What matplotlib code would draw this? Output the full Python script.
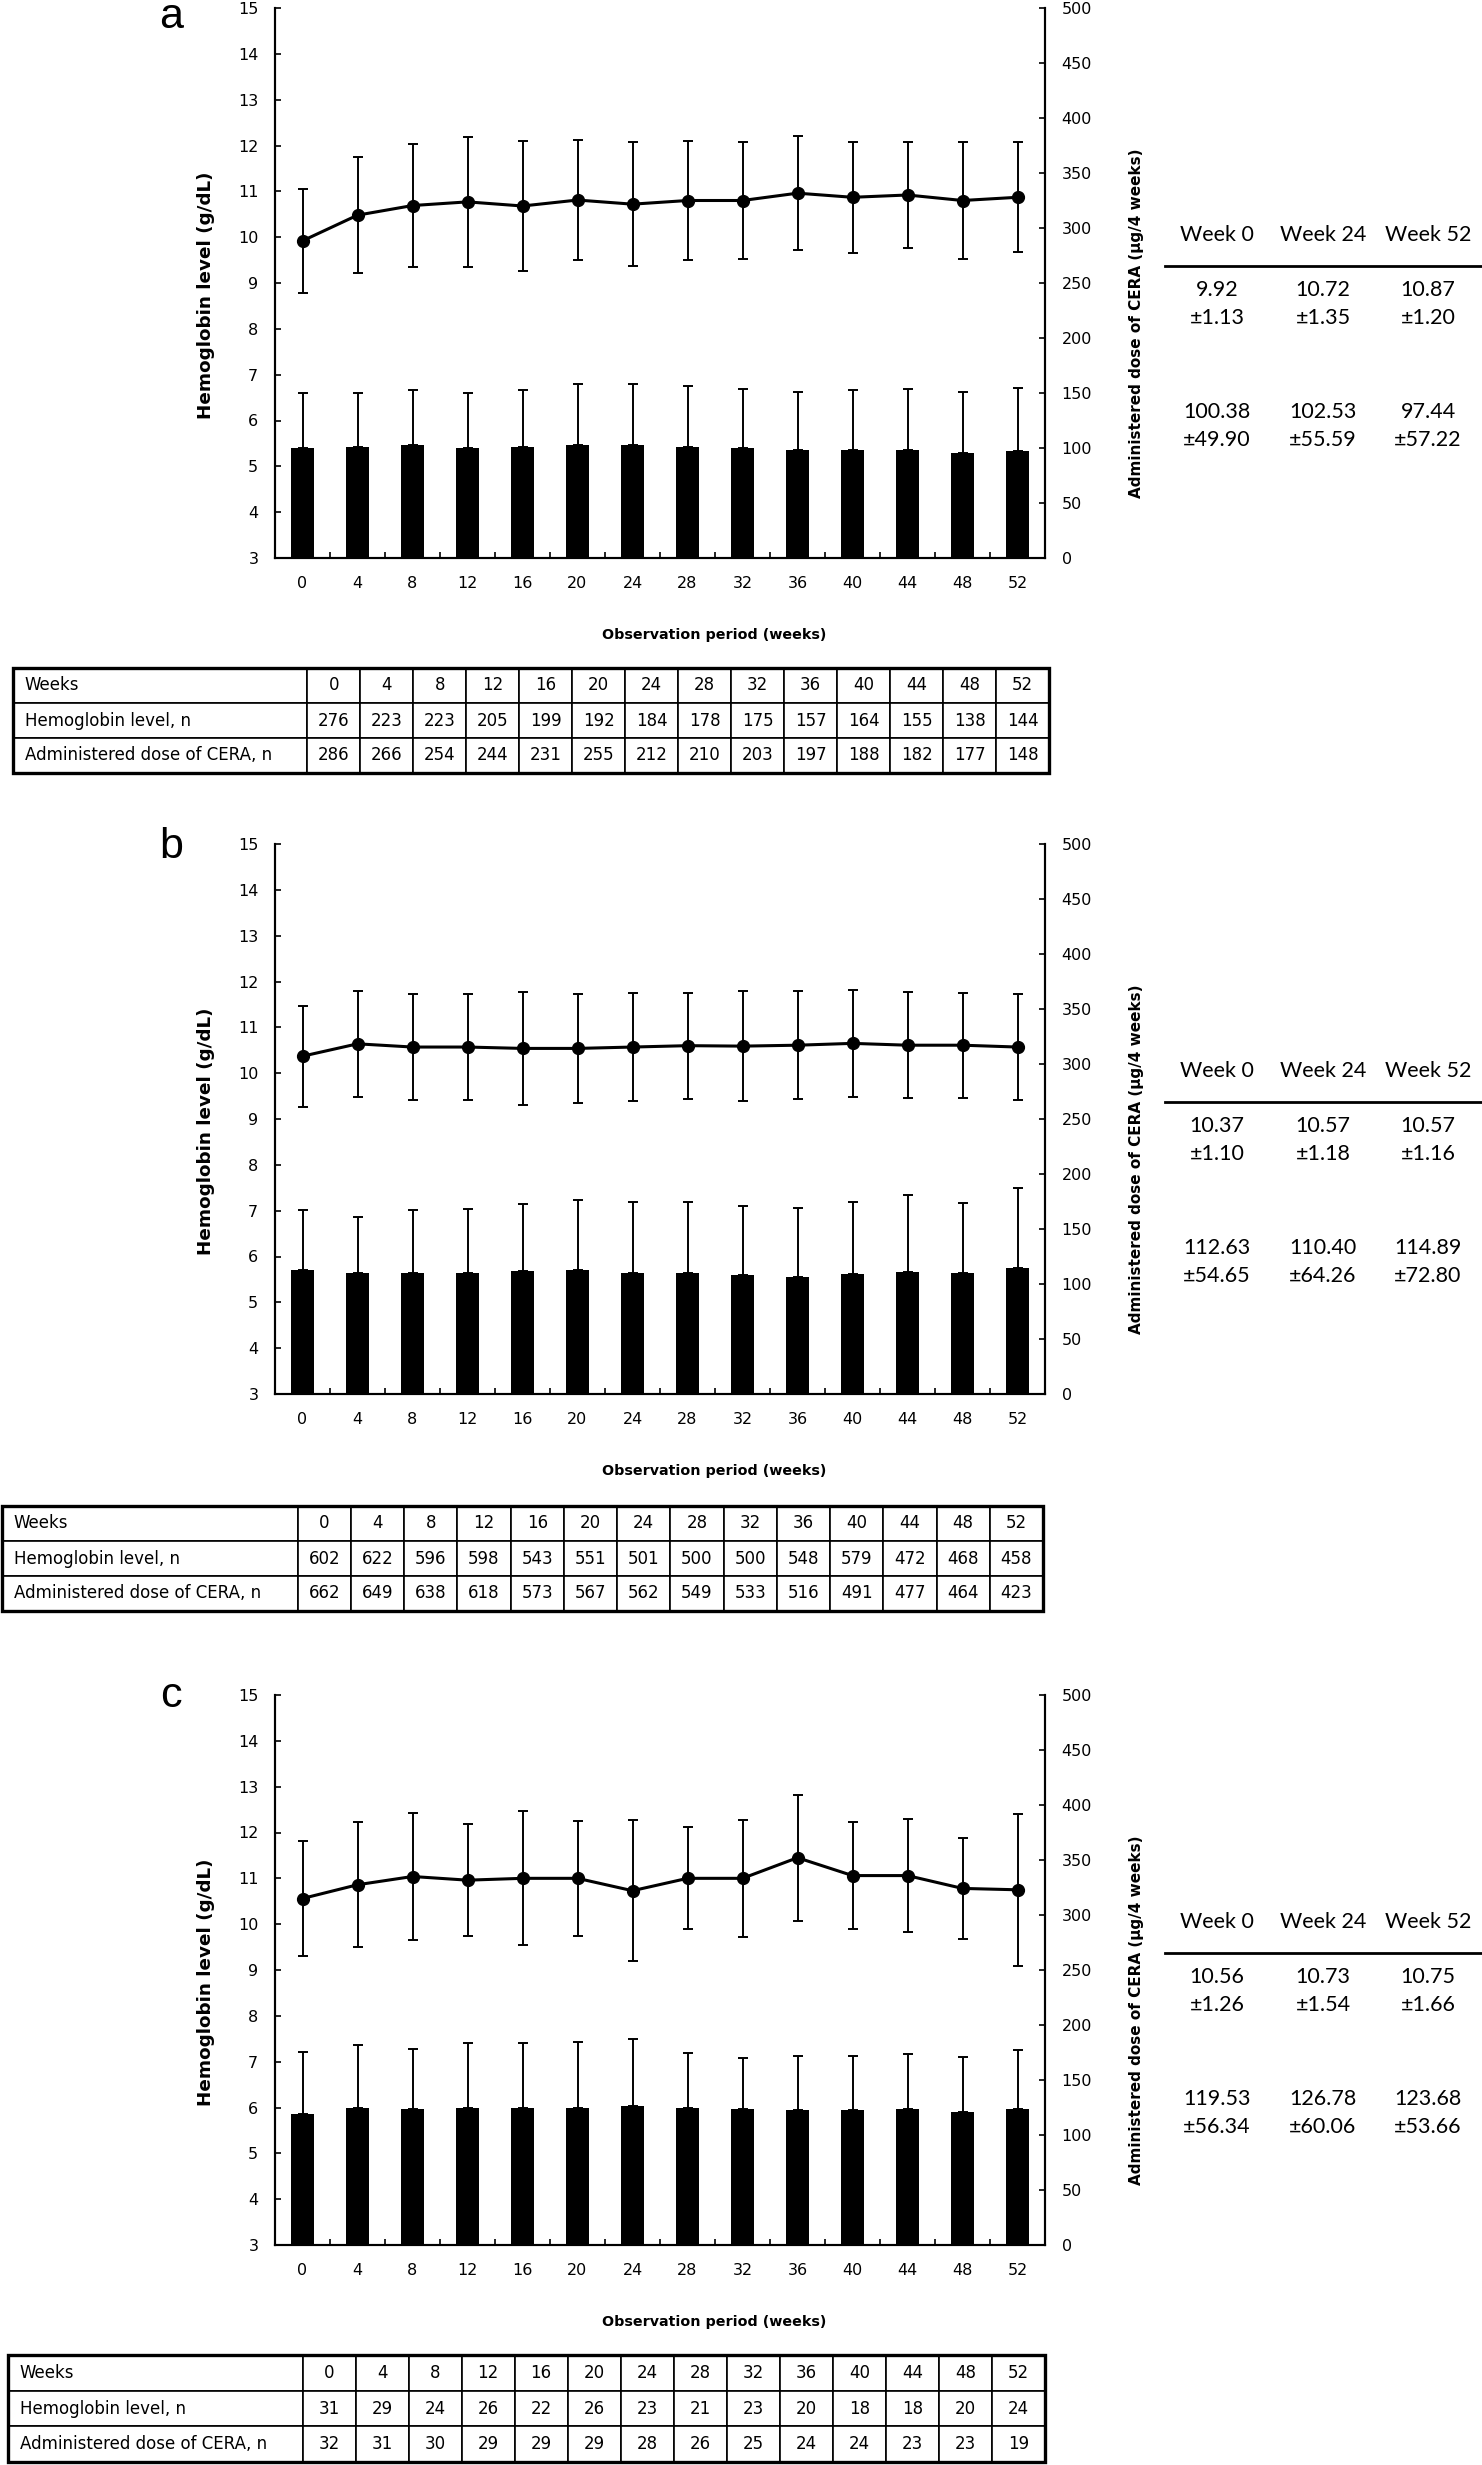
import matplotlib
matplotlib.use("Agg")
import matplotlib.pyplot as plt
import numpy as np
from matplotlib.patches import Rectangle
from matplotlib.lines import Line2D

plt.rcParams['font.family'] = ['DejaVu Sans']

# ---------------- data ----------------
weeks = ["0", "4", "8", "12", "16", "20", "24", "28", "32", "36", "40", "44", "48", "52"]

hb_mean_a = [9.92, 10.48, 10.69, 10.77, 10.68, 10.81, 10.72, 10.80, 10.80, 10.96, 10.87, 10.92, 10.80, 10.87]
hb_sd_a = [1.13, 1.26, 1.35, 1.41, 1.41, 1.30, 1.35, 1.29, 1.28, 1.25, 1.21, 1.16, 1.28, 1.20]
dose_mean_a = [100.38, 101.3, 102.4, 99.9, 101.0, 102.7, 102.53, 101.0, 99.6, 97.8, 98.2, 98.2, 95.8, 97.44]
dose_sd_a = [49.90, 49.0, 50.5, 50.0, 52.0, 55.5, 55.59, 55.0, 54.0, 53.0, 54.3, 55.0, 55.0, 57.22]
n_hb_a = [276, 223, 223, 205, 199, 192, 184, 178, 175, 157, 164, 155, 138, 144]
n_dose_a = [286, 266, 254, 244, 231, 255, 212, 210, 203, 197, 188, 182, 177, 148]
stat_hb_a = [("9.92", "±1.13"), ("10.72", "±1.35"), ("10.87", "±1.20")]
stat_dose_a = [("100.38", "±49.90"), ("102.53", "±55.59"), ("97.44", "±57.22")]

hb_mean_b = [10.37, 10.64, 10.57, 10.57, 10.54, 10.54, 10.57, 10.60, 10.59, 10.61, 10.65, 10.61, 10.61, 10.57]
hb_sd_b = [1.10, 1.15, 1.15, 1.16, 1.23, 1.19, 1.18, 1.16, 1.20, 1.18, 1.17, 1.16, 1.15, 1.16]
dose_mean_b = [112.63, 109.9, 110.2, 110.2, 111.6, 112.7, 110.40, 109.9, 107.8, 106.4, 108.8, 111.3, 109.9, 114.89]
dose_sd_b = [54.65, 50.9, 57.5, 57.8, 61.4, 63.3, 64.26, 64.8, 63.4, 62.3, 65.5, 69.3, 63.4, 72.80]
n_hb_b = [602, 622, 596, 598, 543, 551, 501, 500, 500, 548, 579, 472, 468, 458]
n_dose_b = [662, 649, 638, 618, 573, 567, 562, 549, 533, 516, 491, 477, 464, 423]
stat_hb_b = [("10.37", "±1.10"), ("10.57", "±1.18"), ("10.57", "±1.16")]
stat_dose_b = [("112.63", "±54.65"), ("110.40", "±64.26"), ("114.89", "±72.80")]

hb_mean_c = [10.56, 10.86, 11.04, 10.96, 11.00, 11.00, 10.73, 11.00, 11.00, 11.45, 11.06, 11.06, 10.78, 10.75]
hb_sd_c = [1.26, 1.36, 1.39, 1.22, 1.46, 1.25, 1.54, 1.11, 1.28, 1.37, 1.16, 1.24, 1.10, 1.66]
dose_mean_c = [119.53, 124.7, 123.3, 125.0, 125.0, 125.0, 126.78, 125.0, 123.7, 122.3, 122.3, 123.7, 121.2, 123.68]
dose_sd_c = [56.34, 56.9, 55.2, 58.7, 58.7, 59.7, 60.06, 49.7, 46.1, 49.6, 49.6, 49.9, 49.6, 53.66]
n_hb_c = [31, 29, 24, 26, 22, 26, 23, 21, 23, 20, 18, 18, 20, 24]
n_dose_c = [32, 31, 30, 29, 29, 29, 28, 26, 25, 24, 24, 23, 23, 19]
stat_hb_c = [("10.56", "±1.26"), ("10.73", "±1.54"), ("10.75", "±1.66")]
stat_dose_c = [("119.53", "±56.34"), ("126.78", "±60.06"), ("123.68", "±53.66")]

stat_headers = ["Week 0", "Week 24", "Week 52"]
row_labels = ["Weeks", "Hemoglobin level, n", "Administered dose of CERA, n"]
panel_letters = ["a", "b", "c"]

# ---------------- layout (pixels) ----------------
W, H = 1482, 2465
fig = plt.figure(figsize=(W / 100, H / 100), dpi=100)

def fx(px):
    return px / W

def fy(py):
    return 1 - py / H

COND = ['DejaVu Sans Condensed', 'DejaVu Sans']
STATF = ['Lato', 'DejaVu Sans']

panels = [
    dict(top=8, tbl=(13, 668, 1049, 773), letter_y=28,
         hbm=hb_mean_a, hbs=hb_sd_a, dm=dose_mean_a, ds=dose_sd_a,
         nh=n_hb_a, nd=n_dose_a, sh=stat_hb_a, sd=stat_dose_a),
    dict(top=844, tbl=(2, 1506, 1043, 1611), letter_y=858,
         hbm=hb_mean_b, hbs=hb_sd_b, dm=dose_mean_b, ds=dose_sd_b,
         nh=n_hb_b, nd=n_dose_b, sh=stat_hb_b, sd=stat_dose_b),
    dict(top=1695, tbl=(8, 2355, 1045, 2462), letter_y=1707,
         hbm=hb_mean_c, hbs=hb_sd_c, dm=dose_mean_c, ds=dose_sd_c,
         nh=n_hb_c, nd=n_dose_c, sh=stat_hb_c, sd=stat_dose_c),
]

AX_L, AX_R, AX_H = 275, 1045, 550
x = np.arange(len(weeks))

for k, p in enumerate(panels):
    T = p['top']
    B = T + AX_H
    ax1 = fig.add_axes([fx(AX_L), fy(B), fx(AX_R - AX_L), AX_H / H])
    ax2 = ax1.twinx()
    ax1.set_zorder(ax2.get_zorder() + 1)
    ax1.patch.set_visible(False)

    # bars (right axis)
    ax2.bar(x, p['dm'], width=0.43, color='black', zorder=2)
    ax2.errorbar(x, p['dm'], yerr=[np.zeros(len(x)), p['ds']], fmt='none',
                 ecolor='black', elinewidth=1.4, capsize=3.5, capthick=1.4, zorder=1)
    # line (left axis)
    ax1.errorbar(x, p['hbm'], yerr=p['hbs'], fmt='-o', color='black', ms=8.5,
                 lw=2.2, elinewidth=1.4, capsize=3.5, capthick=1.4)

    ax1.set_xlim(-0.5, len(x) - 0.5)
    ax1.set_ylim(3, 15)
    ax2.set_ylim(0, 500)
    ax1.set_yticks(np.arange(3, 16, 1))
    ax2.set_yticks(np.arange(0, 501, 50))

    ax1.set_xticks(x)
    ax1.set_xticklabels(weeks)
    ax1.set_xticks(np.arange(0.5, len(x) - 1, 1), minor=True)
    ax1.tick_params(axis='x', which='major', length=0, pad=13, labelsize=11.5)
    ax1.tick_params(axis='x', which='minor', direction='in', length=4.5, width=1.2)
    ax1.tick_params(axis='y', direction='in', length=4.5, width=1.2, pad=12, labelsize=11.5)
    ax2.tick_params(axis='y', direction='in', length=4.5, width=1.2, pad=12, labelsize=11.5)

    for ax in (ax1, ax2):
        ax.spines['top'].set_visible(False)
        for s in ('left', 'right', 'bottom'):
            ax.spines[s].set_linewidth(1.5)

    # axis labels
    fig.text(fx(206), fy(T + AX_H / 2 + 12), "Hemoglobin level (g/dL)", rotation=90,
             ha='center', va='center', fontsize=13.2, fontweight='bold')
    fig.text(fx(1137), fy(T + AX_H / 2 + 40), "Administered dose of CERA (μg/4 weeks)",
             rotation=90, ha='center', va='center', fontsize=11, fontweight='bold',
             family=COND)
    fig.text(fx(714), fy(B + 77), "Observation period (weeks)",
             ha='center', va='center', fontsize=10.3, fontweight='bold', family=COND)

    # panel letter
    fig.text(fx(171), fy(p['letter_y']), panel_letters[k], ha='center', va='baseline',
             fontsize=31, family=['Liberation Sans', 'DejaVu Sans'])

    # stats at right
    cols = [1217, 1323, 1428]
    for j, hdr in enumerate(stat_headers):
        fig.text(fx(cols[j]), fy(T + 227), hdr, ha='center', va='center', fontsize=15.5, family=STATF)
        fig.text(fx(cols[j]), fy(T + 282), p['sh'][j][0], ha='center', va='center', fontsize=15.5, family=STATF)
        fig.text(fx(cols[j]), fy(T + 310), p['sh'][j][1], ha='center', va='center', fontsize=15.5, family=STATF)
        fig.text(fx(cols[j]), fy(T + 404), p['sd'][j][0], ha='center', va='center', fontsize=15.5, family=STATF)
        fig.text(fx(cols[j]), fy(T + 432), p['sd'][j][1], ha='center', va='center', fontsize=15.5, family=STATF)
    fig.add_artist(Line2D([fx(1165), fx(1482)], [fy(T + 258), fy(T + 258)],
                          transform=fig.transFigure, color='black', lw=2))

    # table
    l, t, r, b = p['tbl']
    axt = fig.add_axes([fx(l), fy(b), fx(r - l), (b - t) / H])
    axt.axis('off')
    cell_text = [row_labels[:1] + weeks,
                 row_labels[1:2] + [str(v) for v in p['nh']],
                 row_labels[2:3] + [str(v) for v in p['nd']]]
    first = 0.284
    cw = [first] + [(1 - first) / len(weeks)] * len(weeks)
    tbl = axt.table(cellText=cell_text, colWidths=cw, cellLoc='center', bbox=[0, 0, 1, 1])
    tbl.auto_set_font_size(False)
    tbl.set_fontsize(12)
    for (ri, ci), cell in tbl.get_celld().items():
        cell.set_linewidth(1.2)
        cell.get_text().set_family(COND)
        if ci == 0:
            cell.get_text().set_ha('left')
            cell.PAD = 0.04
    axt.add_patch(Rectangle((0, 0), 1, 1, transform=axt.transAxes, fill=False,
                            lw=2.4, ec='black', clip_on=False))

fig.savefig("out.png", dpi=100)
